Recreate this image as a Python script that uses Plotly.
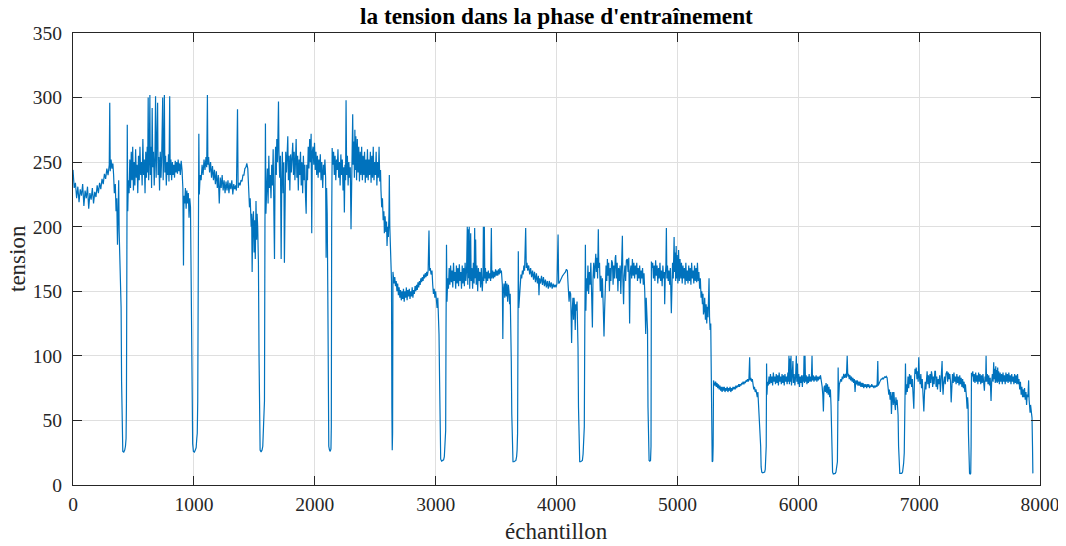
import plotly.graph_objects as go

# (sample, tension) readings, segment 1 (~240 V level)
SEG1 = [
(0,244),(5,238),(10,230),(20,234),(30,222),(40,231),(50,219),(60,229),(70,224),(80,233),(90,216),(100,228),(110,222),(120,231),(130,214),(140,226),(150,221),(160,230),(170,218),(180,227),(190,223),(200,232),(210,226),(220,234),(230,229),(240,237),(250,233),(260,241),(270,237),(280,245),(290,240),(300,248),(304,296),(308,243),(315,252),(322,245),(330,249),(336,240),(342,226),(350,233),(356,212),(362,222),(368,186),(374,215),(378,236),(382,196),(388,172),(394,150),(398,137),(402,80),(406,30),(412,26),(420,25.5),(428,27),(434,30),(439,36),(442,63),(446,230),(449,279),(453,212),(458,236),(464,226),(470,252),(476,230),(482,258),(488,236),(494,262),(500,228),(506,250),(512,232),(518,260),(524,238),(530,248),(536,226),(542,255),(548,236),(554,262),(560,240),(566,250),(572,232),(578,268),(584,240),(590,252),(596,226),(602,258),(608,238),(614,262),(618,242),(622,300),(626,236),(632,258),(636,302),(640,240),(646,262),(650,230),(655,292),(660,246),(666,258),(672,232),(678,255),(683,301),(688,238),(694,260),(700,296),(704,240),(710,254),(716,228),(722,258),(728,238),(734,255),(742,300),(746,236),(752,260),(756,302),(760,242),(766,255),(772,232),(778,250),(784,240),(790,256),(794,235),(800,301),(804,240),(810,252),(816,236),(822,250),(828,240),(834,248),(840,238),(846,251),(852,242),(858,250),(864,241),(870,252),(876,243),(882,249),(888,240),(895,251),(902,244),(909,230),(914,170),(918,224),(924,218),(930,230),(936,214),(942,228),(948,218),(954,226),(960,207),(966,222),(972,215),(977,166),(982,120),(986,60),(990,32),(996,26),(1004,25.5),(1012,27),(1019,29),(1024,36),(1028,40),(1032,65),(1036,205),(1041,272),(1045,225),(1052,240),(1060,236),(1068,248),(1076,240),(1084,252),(1092,244),(1100,254),(1106,246),(1112,302),(1116,248),(1122,254),(1130,242),(1138,250),(1146,238),(1154,247),(1162,236),(1170,244),(1178,233),(1186,243),(1194,230),(1202,240),(1210,218),(1218,238),(1226,230),(1234,240),(1242,228),(1250,236),(1258,226),(1266,235),(1274,228),(1282,236),(1290,226),(1298,234),(1306,229),(1314,236),(1322,225),(1330,233),(1338,229),(1346,232),(1352,228),(1361,291),(1366,230),(1374,234),(1382,232),(1390,236),(1398,235),(1406,240),(1414,240),(1422,245),(1430,246),(1438,249),(1446,245),(1452,228),(1460,215),(1466,222),(1474,200),(1478,210),(1482,165),(1488,205),(1493,212),(1498,180),(1502,205),(1508,175),(1514,220),(1519,190),(1523,210),(1528,200),(1534,172),(1539,100),(1543,40),(1548,27),(1556,25.5),(1564,27),(1570,30),(1575,45),(1580,50),(1584,65),(1588,200),(1592,280),(1596,210),(1602,226),(1608,245),(1614,218),(1620,255),(1626,230),(1632,240),(1638,222),(1644,248),(1650,232),(1656,260),(1662,210),(1667,175),(1672,245),(1676,262),(1682,240),(1686,268),(1692,250),(1696,272),(1700,297),(1704,258),(1710,238),(1716,255),(1722,175),(1727,235),(1732,258),(1738,226),(1744,250),(1749,172),(1754,232),(1760,258),(1766,242),(1772,262),(1777,270),(1782,236),(1788,255),(1794,228),(1800,256),(1806,242),(1812,262),(1818,265),(1824,240),(1830,258),(1836,236),(1842,262),(1846,268),(1852,238),(1858,255),(1864,228),(1870,252),(1876,240),(1882,258),(1888,232),(1894,250),(1900,226),(1906,255),(1912,236),(1918,248),(1924,222),(1929,210),(1934,248),(1940,236),(1946,262),(1952,245),(1958,268),(1964,250),(1970,272),(1975,195),(1980,258),(1986,262),(1992,248),(1998,265),(2004,244),(2010,258),(2016,240),(2022,255),(2028,238),(2034,252),(2040,242),(2046,256),(2052,236),(2058,250),(2066,230),(2072,248),(2078,240),(2084,252),(2090,238),(2094,176),(2098,230),(2103,210),(2108,150),(2112,60),(2116,30),(2122,27),(2128,26),(2134,28),(2137,45),(2140,200),(2144,261),(2150,248),(2156,258),(2162,240),(2168,255),(2174,236),(2180,252),(2186,244),(2192,260),(2198,238),(2204,250),(2210,232),(2216,256),(2222,240),(2228,252),(2234,228),(2240,246),(2245,211),(2250,248),(2255,236),(2259,298),(2264,240),(2270,255),(2276,232),(2282,250),(2288,238),(2294,246),(2300,198),(2305,240),(2310,258),(2314,287),(2318,248),(2324,266),(2328,238),(2332,275),(2336,244),(2340,270),(2346,236),(2352,268),(2358,242),(2364,262),(2370,235),(2376,258),(2382,240),(2388,262),(2394,236),(2400,255),(2406,240),(2412,258),(2418,234),(2424,252),(2430,238),(2436,260),(2442,236),(2448,252),(2454,240),(2460,258),(2466,234),(2472,255),(2478,238),(2484,262),(2490,236),(2496,250),(2502,240),(2508,258),(2514,232),(2520,250),(2526,238),(2532,262),(2538,235),(2544,244),(2548,228),(2554,215),(2560,222),(2566,205),(2572,212),(2576,195),(2582,208),(2588,196),(2594,204),(2598,185),(2604,200),(2609,192),(2614,210),(2617,240),(2621,200),(2626,179),(2631,160),(2635,158),(2638,60),(2641,27),(2644,40),(2647,165),
]

# segment 2 (~160 V level)
SEG2 = [
(2650,163),(2656,156),(2662,161),(2668,154),(2674,158),(2680,150),(2686,156),(2692,147),(2698,153),(2704,145),(2710,151),(2716,143),(2722,150),(2728,144),(2734,152),(2740,142),(2746,150),(2752,145),(2758,153),(2764,143),(2770,151),(2776,146),(2782,152),(2788,144),(2794,150),(2800,146),(2806,153),(2812,145),(2818,151),(2824,148),(2830,154),(2836,150),(2842,155),(2848,151),(2854,157),(2860,153),(2866,158),(2872,155),(2878,160),(2884,157),(2890,161),(2896,158),(2902,163),(2908,160),(2914,164),(2920,161),(2926,165),(2932,162),(2938,166),(2945,197),(2950,166),(2956,168),(2962,163),(2970,166),(2976,155),(2982,148),(2988,152),(2994,145),(3000,150),(3006,140),(3012,137),(3018,145),(3024,130),(3028,117),(3033,80),(3037,30),(3042,20),(3050,18.5),(3058,19),(3066,19.5),(3072,22),(3078,30),(3083,42),(3086,120),(3090,186),(3094,142),(3100,160),(3106,152),(3112,168),(3118,155),(3124,170),(3130,157),(3136,166),(3142,153),(3148,172),(3154,158),(3160,165),(3166,152),(3172,170),(3178,156),(3184,168),(3190,154),(3196,171),(3202,158),(3208,165),(3214,152),(3220,170),(3226,156),(3232,168),(3238,154),(3244,172),(3250,158),(3256,166),(3262,200),(3266,155),(3270,198),(3274,160),(3278,200),(3282,152),(3286,170),(3290,195),(3294,158),(3300,168),(3306,152),(3312,172),(3318,156),(3323,199),(3327,160),(3331,190),(3336,155),(3342,170),(3348,150),(3354,168),(3360,158),(3366,165),(3372,153),(3378,168),(3386,150),(3392,162),(3395,200),(3399,158),(3403,200),(3407,160),(3412,168),(3418,156),(3424,165),(3430,158),(3436,166),(3442,160),(3448,164),(3455,158),(3461,199),(3465,160),(3472,166),(3478,160),(3484,165),(3490,161),(3496,167),(3502,162),(3508,166),(3514,162),(3520,167),(3526,163),(3532,168),(3538,164),(3544,166),(3552,155),(3556,113),(3560,150),(3566,156),(3572,145),(3578,158),(3584,146),(3590,156),(3596,142),(3602,155),(3607,150),(3612,140),(3617,148),(3622,130),(3626,96),(3630,55),(3634,22),(3640,18),(3648,18),(3656,18.5),(3664,19),(3670,22),(3674,27),(3678,40),(3681,120),(3684,181),(3688,137),(3694,150),(3700,160),(3706,163),(3712,160),(3718,166),(3724,163),(3730,170),(3736,166),(3745,199),(3750,168),(3756,172),(3762,166),(3770,170),(3778,163),(3786,168),(3794,161),(3802,166),(3810,159),(3818,165),(3826,157),(3834,164),(3842,156),(3850,162),(3855,147),(3860,160),(3868,156),(3876,162),(3884,155),(3892,161),(3900,154),(3908,159),(3916,153),(3924,158),(3932,152),(3940,158),(3948,153),(3956,157),(3964,152),(3972,156),(3980,153),(3988,155),(3996,153),(4004,156),(4013,194),(4018,156),(4026,157),(4034,159),(4042,160),(4050,162),(4058,163),(4066,164),(4074,165),(4082,167),(4090,166),(4096,155),(4104,142),(4110,150),(4117,148),(4121,130),(4125,110),(4130,135),(4136,145),(4141,128),(4145,145),(4150,138),(4155,120),(4159,140),(4164,135),(4170,142),(4174,125),(4178,106),(4182,60),(4186,30),(4192,18),(4200,18),(4208,18.5),(4214,19),(4220,24),(4225,35),(4230,45),(4234,120),(4239,186),(4243,135),(4248,160),(4254,150),(4260,170),(4266,148),(4272,165),(4278,155),(4284,172),(4290,150),(4297,122),(4302,160),(4308,172),(4314,160),(4320,176),(4325,179),(4330,165),(4336,176),(4340,160),(4346,198),(4350,168),(4356,172),(4362,150),(4368,162),(4374,145),(4380,160),(4386,140),(4393,115),(4398,135),(4404,160),(4410,170),(4416,158),(4421,175),(4426,162),(4432,172),(4438,150),(4444,168),(4450,158),(4456,174),(4463,172),(4468,155),(4474,170),(4480,160),(4486,176),(4490,178),(4496,160),(4502,172),(4508,150),(4514,168),(4520,158),(4526,170),(4532,148),(4538,165),(4545,193),(4549,160),(4555,140),(4560,162),(4566,170),(4572,158),(4578,174),(4586,175),(4592,165),(4598,176),(4605,125),(4610,165),(4616,170),(4622,160),(4628,175),(4634,162),(4640,172),(4646,160),(4652,170),(4658,163),(4664,172),(4670,158),(4676,168),(4682,160),(4688,170),(4694,156),(4700,166),(4706,160),(4712,168),(4718,155),(4724,164),(4730,150),(4738,117),(4742,145),(4748,135),(4753,120),(4757,60),(4761,25),(4766,19),(4772,18.5),(4778,19),(4782,30),(4785,173),(4790,168),(4796,172),(4802,160),(4808,170),(4814,158),(4820,174),(4826,162),(4832,170),(4838,156),(4844,168),(4850,160),(4856,172),(4862,158),(4868,166),(4874,154),(4880,170),(4886,160),(4892,165),(4895,140),(4900,162),(4905,170),(4909,199),(4913,160),(4918,170),(4924,158),(4930,166),(4936,155),(4942,168),(4950,133),(4955,160),(4960,172),(4966,160),(4973,192),(4977,165),(4982,180),(4986,158),(4990,185),(4994,160),(4998,178),(5004,156),(5010,182),(5016,158),(5022,175),(5028,160),(5034,172),(5040,156),(5046,170),(5052,160),(5058,168),(5064,155),(5070,172),(5076,158),(5082,166),(5088,156),(5094,170),(5100,158),(5106,168),(5112,155),(5118,172),(5124,160),(5130,166),(5136,156),(5142,170),(5148,158),(5154,168),(5160,157),(5166,172),(5172,158),(5178,165),(5184,152),(5190,160),(5196,145),(5202,150),(5207,140),(5212,148),(5216,132),(5221,135),(5226,145),(5232,128),(5238,140),(5243,125),(5248,138),(5253,130),(5258,145),(5262,160),(5266,130),(5271,120),(5276,125),(5281,95),(5284,40),(5288,18),(5293,18.5),(5296,30),(5299,81),
]

# segment 3 (~80 V level)
SEG3 = [
(5304,79),(5310,77),(5316,80),(5322,76),(5328,79),(5334,75),(5340,78),(5346,74),(5352,77),(5358,73),(5364,76),(5370,72),(5376,76),(5382,73),(5388,76),(5394,72),(5400,75),(5406,73),(5412,76),(5418,72),(5424,75),(5430,73),(5436,76),(5442,72),(5448,75),(5454,73),(5460,76),(5466,74),(5472,76),(5478,74),(5484,77),(5490,75),(5496,77),(5502,76),(5508,78),(5514,76),(5520,78),(5526,77),(5532,79),(5538,78),(5544,80),(5550,78),(5556,80),(5562,79),(5568,81),(5574,80),(5580,82),(5586,80),(5592,82),(5598,99),(5602,81),(5608,83),(5614,80),(5620,82),(5626,78),(5632,74),(5638,76),(5644,72),(5650,74),(5656,70),(5661,68),(5666,72),(5670,64),(5675,60),(5680,52),(5685,46),(5689,30),(5693,14),(5698,10),(5706,9.5),(5714,10),(5722,10),(5727,12),(5731,18),(5735,30),(5738,94),(5741,70),(5746,80),(5752,77),(5758,84),(5764,78),(5770,86),(5776,79),(5782,84),(5788,77),(5794,87),(5800,80),(5806,84),(5812,78),(5818,86),(5824,79),(5830,85),(5836,77),(5842,87),(5848,80),(5854,84),(5860,78),(5866,86),(5872,79),(5878,85),(5884,77),(5890,86),(5896,80),(5902,84),(5908,78),(5914,87),(5918,80),(5923,100),(5927,78),(5932,98),(5936,80),(5940,100),(5944,77),(5950,85),(5956,96),(5960,79),(5966,86),(5972,77),(5978,84),(5984,100),(5988,80),(5993,94),(5998,78),(6004,86),(6010,76),(6016,84),(6022,79),(6028,85),(6034,76),(6040,85),(6044,80),(6048,100),(6052,79),(6056,100),(6060,80),(6066,85),(6072,78),(6078,84),(6084,79),(6090,86),(6096,80),(6102,84),(6108,80),(6114,100),(6118,81),(6124,85),(6130,80),(6136,84),(6142,81),(6148,85),(6154,80),(6160,84),(6166,81),(6172,84),(6178,82),(6184,85),(6190,82),(6198,76),(6203,70),(6208,57),(6213,75),(6218,77),(6224,72),(6230,79),(6236,71),(6242,78),(6248,70),(6254,76),(6260,68),(6266,74),(6271,62),(6275,42),(6279,20),(6284,10),(6290,8.5),(6298,8.5),(6306,9),(6312,10),(6318,14),(6324,18),(6327,50),(6330,91),(6334,65),(6340,78),(6346,80),(6352,82),(6358,80),(6364,84),(6370,82),(6376,86),(6384,83),(6391,86),(6398,83),(6405,100),(6410,84),(6416,86),(6422,82),(6428,85),(6434,81),(6440,84),(6446,80),(6452,83),(6458,79),(6464,82),(6470,72),(6476,81),(6482,78),(6488,81),(6494,77),(6500,80),(6506,77),(6512,80),(6518,76),(6524,79),(6530,76),(6536,79),(6542,75),(6548,78),(6554,76),(6560,78),(6566,75),(6572,78),(6578,76),(6584,78),(6590,75),(6596,77),(6602,76),(6608,78),(6614,76),(6620,77),(6626,75),(6632,77),(6638,76),(6646,77),(6652,76),(6658,96),(6662,77),(6668,79),(6674,80),(6680,81),(6686,82),(6692,82),(6698,83),(6704,82),(6710,83),(6716,84),(6722,83),(6728,84),(6735,83),(6741,76),(6749,70),(6754,74),(6760,66),(6766,72),(6771,55),(6776,68),(6782,72),(6786,62),(6791,72),(6796,65),(6804,58),(6808,68),(6813,62),(6818,66),(6822,60),(6826,54),(6830,30),(6835,12),(6840,9),(6848,9),(6856,9),(6863,10),(6868,13),(6872,17),(6877,25),(6882,60),(6887,94),(6891,70),(6896,78),(6902,72),(6908,84),(6914,75),(6920,86),(6926,78),(6932,85),(6938,76),(6944,82),(6950,70),(6956,59),(6961,80),(6966,90),(6972,86),(6976,91),(6982,82),(6988,88),(6992,80),(6997,99),(7002,84),(7008,78),(7014,86),(7020,75),(7026,82),(7032,70),(7039,57),(7044,70),(7050,80),(7056,74),(7062,86),(7066,88),(7072,78),(7078,85),(7084,75),(7090,86),(7096,79),(7102,88),(7107,85),(7112,76),(7118,84),(7124,78),(7130,88),(7135,88),(7140,76),(7146,84),(7152,74),(7158,82),(7164,78),(7170,85),(7176,72),(7182,82),(7190,96),(7194,78),(7198,70),(7204,80),(7210,84),(7216,78),(7222,86),(7231,88),(7236,80),(7242,87),(7248,82),(7254,86),(7260,80),(7265,64),(7270,82),(7276,86),(7282,79),(7288,87),(7294,80),(7300,84),(7306,78),(7312,86),(7318,79),(7324,84),(7330,77),(7336,85),(7342,78),(7348,83),(7354,76),(7360,82),(7366,75),(7372,80),(7378,72),(7383,78),(7390,70),(7397,59),(7401,68),(7405,62),(7408,40),(7412,15),(7417,9),(7422,8.5),(7427,9),(7430,30),(7433,87),(7438,84),(7444,88),(7450,80),(7456,86),(7462,79),(7468,87),(7474,80),(7480,85),(7486,78),(7492,87),(7498,80),(7504,86),(7510,78),(7516,85),(7522,79),(7528,86),(7534,80),(7540,73),(7545,84),(7550,80),(7554,100),(7558,80),(7564,86),(7570,78),(7576,85),(7582,77),(7588,83),(7595,65),(7600,80),(7606,86),(7612,80),(7617,95),(7621,82),(7626,90),(7630,79),(7634,92),(7638,80),(7642,89),(7646,79),(7650,91),(7654,80),(7658,88),(7664,78),(7670,87),(7676,80),(7682,86),(7688,78),(7694,87),(7700,80),(7706,85),(7712,78),(7718,87),(7724,80),(7730,86),(7736,79),(7742,87),(7748,80),(7754,85),(7760,78),(7766,86),(7772,80),(7778,84),(7784,78),(7790,86),(7796,79),(7802,85),(7808,78),(7814,86),(7820,78),(7826,82),(7832,74),(7838,80),(7844,70),(7850,76),(7856,68),(7862,74),(7866,68),(7872,75),(7878,66),(7884,72),(7889,62),(7894,70),(7900,68),(7906,81),(7910,66),(7914,60),(7918,56),(7922,62),(7926,55),(7930,58),(7934,52),(7938,30),(7941,9),
]

X_TICKS = [0, 1000, 2000, 3000, 4000, 5000, 6000, 7000, 8000]
Y_TICKS = [0, 50, 100, 150, 200, 250, 300, 350]
TITLE = "la tension dans la phase d'entraînement"
X_LABEL = "échantillon"
Y_LABEL = "tension"

points = SEG1 + SEG2 + SEG3
samples = [p[0] for p in points]
tension = [p[1] for p in points]

FONT = "Liberation Serif, Times New Roman, serif"
AX = "#262626"

fig = go.Figure()
fig.add_trace(go.Scatter(x=samples, y=tension, mode="lines",
                         line=dict(color="#0072BD", width=1.2), hoverinfo="skip"))

axis_common = dict(showline=True, linecolor=AX, linewidth=1, mirror="ticks",
                   ticks="inside", ticklen=9, tickwidth=1, tickcolor=AX,
                   showgrid=True, gridcolor="#dfdfdf", gridwidth=1, zeroline=False,
                   automargin=False,
                   tickfont=dict(family=FONT, size=19.5, color=AX))

fig.update_xaxes(range=[0, 8000], tickmode="array", tickvals=X_TICKS,
                 ticktext=[str(v) for v in X_TICKS], ticklabelstandoff=2, **axis_common)
fig.update_yaxes(range=[0, 350], tickmode="array", tickvals=Y_TICKS,
                 ticktext=[str(v) for v in Y_TICKS], ticklabelstandoff=6, **axis_common)

# the page body adds an 8 px margin, so the figure is sized 8 px smaller
fig.update_layout(
    width=1058, height=538,
    margin=dict(l=65, r=26, t=25, b=61, autoexpand=False),
    paper_bgcolor="white", plot_bgcolor="white",
    showlegend=False,
    annotations=[
        dict(text="<b>" + TITLE + "</b>", xref="paper", yref="paper", x=0.5, y=1,
             xanchor="center", yanchor="middle", yshift=17, showarrow=False,
             font=dict(family=FONT, size=23.3, color="black")),
        dict(text=X_LABEL, xref="paper", yref="paper", x=0.5, y=0,
             xanchor="center", yanchor="middle", yshift=-46, showarrow=False,
             font=dict(family=FONT, size=23, color=AX)),
        dict(text=Y_LABEL, xref="paper", yref="paper", x=0, y=0.5,
             xanchor="center", yanchor="middle", xshift=-56, textangle=-90, showarrow=False,
             font=dict(family=FONT, size=23, color=AX)),
    ],
)

fig.write_html("out.html")
